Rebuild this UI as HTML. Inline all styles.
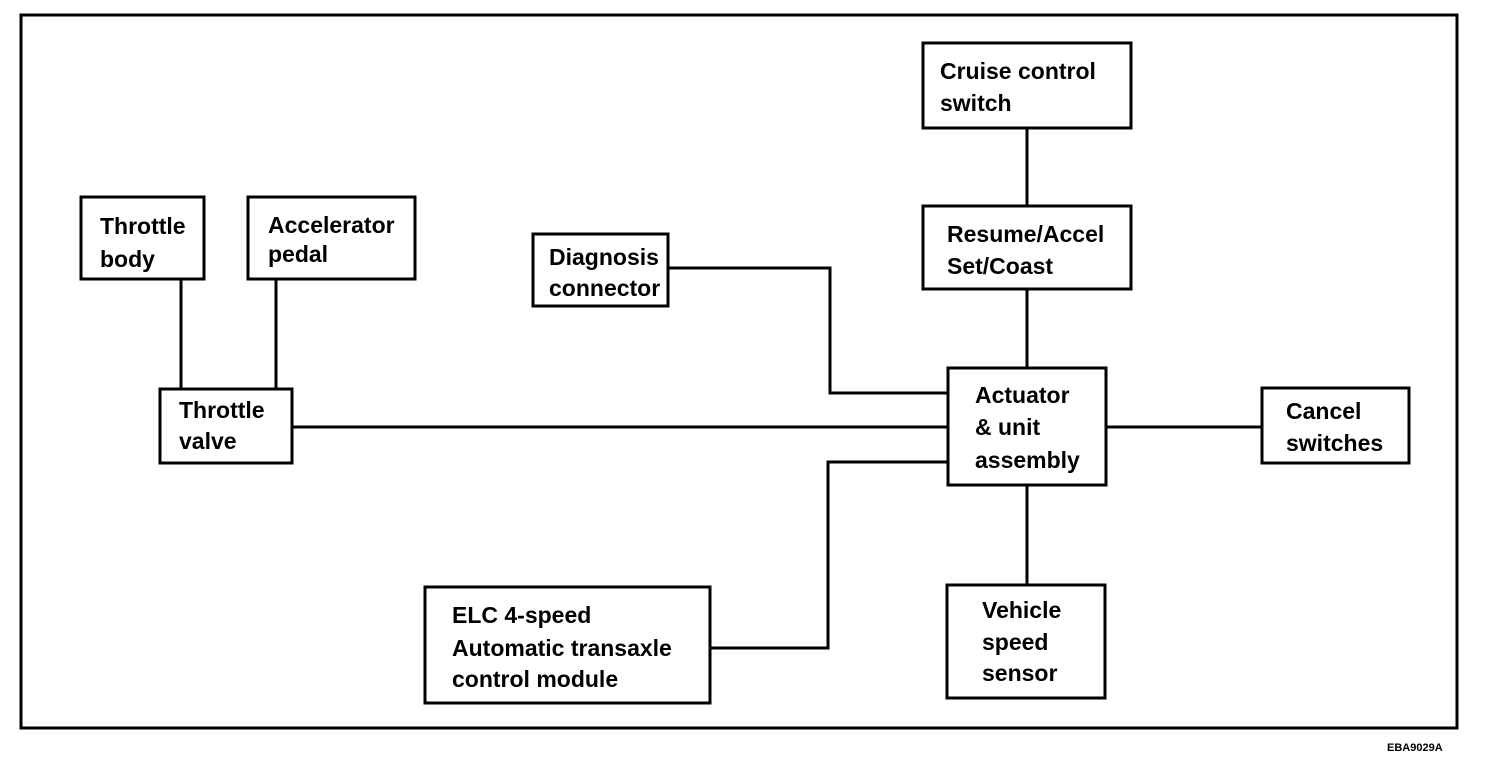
<!DOCTYPE html>
<html><head><meta charset="utf-8"><style>
html,body{margin:0;padding:0;background:#fff;}
svg{display:block;}
text{font-family:"Liberation Sans",Arial,sans-serif;font-weight:bold;font-size:23px;fill:#000;}
</style></head><body>
<svg width="1504" height="768" viewBox="0 0 1504 768">
<g fill="none" stroke="#000" stroke-width="3">
<rect x="21" y="15" width="1436" height="713"/>
<rect x="81" y="197" width="123" height="82"/>
<rect x="248" y="197" width="167" height="82"/>
<rect x="160" y="389" width="132" height="74"/>
<rect x="533" y="234" width="135" height="72"/>
<rect x="923" y="43" width="208" height="85"/>
<rect x="923" y="206" width="208" height="83"/>
<rect x="948" y="368" width="158" height="117"/>
<rect x="1262" y="388" width="147" height="75"/>
<rect x="947" y="585" width="158" height="113"/>
<rect x="425" y="587" width="285" height="116"/>
<line x1="181" y1="279" x2="181" y2="389"/>
<line x1="276" y1="279" x2="276" y2="389"/>
<line x1="292" y1="427" x2="948" y2="427"/>
<polyline points="668,268 830,268 830,393 948,393"/>
<polyline points="710,648 828,648 828,462 948,462"/>
<line x1="1027" y1="128" x2="1027" y2="206"/>
<line x1="1027" y1="289" x2="1027" y2="368"/>
<line x1="1027" y1="485" x2="1027" y2="585"/>
<line x1="1106" y1="427" x2="1262" y2="427"/>
</g>
<text x="100" y="234">Throttle</text><text x="100" y="267">body</text>
<text x="268" y="233">Accelerator</text><text x="268" y="262">pedal</text>
<text x="179" y="418">Throttle</text><text x="179" y="449">valve</text>
<text x="549" y="265">Diagnosis</text><text x="549" y="296">connector</text>
<text x="940" y="79">Cruise control</text><text x="940" y="111">switch</text>
<text x="947" y="242">Resume/Accel</text><text x="947" y="274">Set/Coast</text>
<text x="975" y="403">Actuator</text><text x="975" y="435">&amp; unit</text><text x="975" y="468">assembly</text>
<text x="1286" y="419">Cancel</text><text x="1286" y="451">switches</text>
<text x="982" y="618">Vehicle</text><text x="982" y="650">speed</text><text x="982" y="681">sensor</text>
<text x="452" y="623">ELC 4-speed</text><text x="452" y="656">Automatic transaxle</text><text x="452" y="687">control module</text>
<text x="1387" y="751" style="font-size:11px">EBA9029A</text>
</svg>
</body></html>
